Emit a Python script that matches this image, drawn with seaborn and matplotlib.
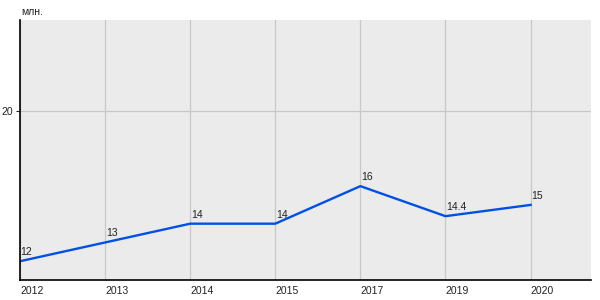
import matplotlib
matplotlib.use("Agg")
import matplotlib.pyplot as plt
import seaborn as sns
import pandas as pd

years = ["2012", "2013", "2014", "2015", "2017", "2019", "2020"]
values = [12, 13, 14, 14, 16, 14.4, 15]
labels = ["12", "13", "14", "14", "16", "14.4", "15"]
y_ticks = [20]
unit = "млн."

plt.rcParams['font.family'] = ['Liberation Sans', 'DejaVu Sans']

df = pd.DataFrame({"year": years, "value": values})

fig = plt.figure(figsize=(6, 3), dpi=100)
ax = fig.add_axes([20/600, 1-280/300, 571/600, 260/300])
ax.set_facecolor("#ebebeb")

sns.lineplot(data=df, x="year", y="value", ax=ax, color="#0050e6", linewidth=1.7, sort=False)

for i, (v, t) in enumerate(zip(values, labels)):
    ax.annotate(t, (i, v), xytext=(0.5, 3), textcoords="offset points",
                ha="left", va="bottom", fontsize=7.5, color="#222222")

ax.set_xlim(0, 6.71)
ax.set_ylim(11, 24.85)
ax.set_yticks(y_ticks)
ax.set_yticklabels([str(t) for t in y_ticks])
ax.set_xticks(range(len(years)))
ax.set_xticklabels(years, ha="left")
ax.tick_params(axis="x", length=0, pad=4, labelsize=7.5, colors="#222222")
ax.tick_params(axis="y", length=3, pad=2, labelsize=7.5, colors="#222222", width=0.8)
ax.grid(True, color="#c8c8c8", linewidth=0.9)
ax.set_axisbelow(True)
for s in ["top", "right"]:
    ax.spines[s].set_visible(False)
for s in ["left", "bottom"]:
    ax.spines[s].set_color("black")
    ax.spines[s].set_linewidth(1.2)
ax.set_xlabel("")
ax.set_ylabel("")

fig.text(21/600, 1-15/300, unit, fontsize=7.5, color="#222222", ha="left", va="baseline")

fig.savefig("out.png", dpi=100, facecolor="white")
